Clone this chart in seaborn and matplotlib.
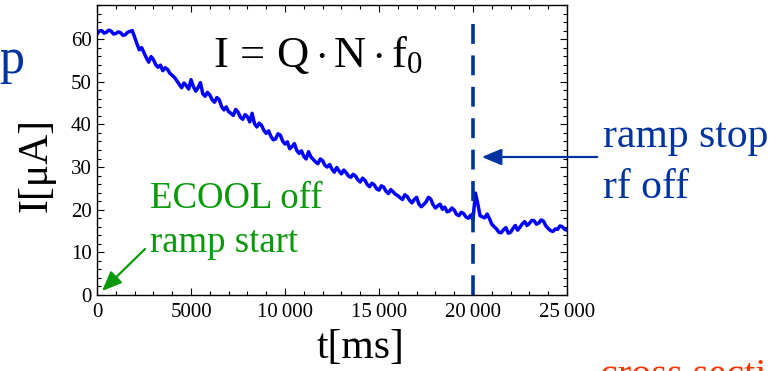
import numpy as np
import pandas as pd
import matplotlib
matplotlib.use("Agg")
import matplotlib.pyplot as plt
import seaborn as sns
from matplotlib.ticker import MultipleLocator, FixedLocator, FixedFormatter

# ---------------- data ----------------
t_start, t_end, t_step = 0, 25000, 125
current_uA = [
    61.2, 61.9, 62.0, 61.4, 61.6, 62.1, 61.9, 61.2, 61.3, 61.7, 61.5, 60.9, 61.0, 61.6, 61.8, 62.0,
    60.5, 58.9, 57.5, 58.0, 56.8, 55.6, 54.6, 55.9, 55.2, 54.0, 53.4, 53.9, 52.6, 53.3, 52.9, 52.0,
    51.5, 51.0, 50.2, 49.4, 48.6, 49.7, 49.1, 48.3, 50.5, 48.9, 47.8, 48.6, 49.8, 47.2, 46.6, 47.5,
    46.9, 45.8, 45.2, 46.3, 45.8, 44.2, 43.4, 44.1, 43.0, 42.6, 42.1, 43.5, 42.9, 41.7, 41.2, 42.3,
    41.8, 40.6, 42.6, 40.2, 39.4, 40.3, 39.8, 38.6, 37.9, 38.5, 37.2, 36.4, 36.6, 37.8, 37.5, 36.1,
    35.4, 35.9, 34.3, 34.8, 35.5, 33.9, 33.2, 33.8, 32.5, 31.9, 33.6, 32.4, 31.8, 31.2, 30.8, 31.9,
    31.5, 30.4, 30.0, 30.6, 29.5, 28.8, 29.9, 29.1, 28.4, 29.3, 28.7, 27.9, 27.6, 28.3, 27.9, 27.0,
    26.5, 27.4, 26.9, 25.9, 25.4, 26.2, 25.8, 24.9, 24.6, 25.6, 25.3, 24.3, 23.8, 24.7, 24.2, 23.6,
    23.3, 22.8, 22.4, 23.5, 23.1, 22.2, 21.6, 22.4, 22.9, 21.3, 20.7, 21.2, 21.8, 22.9, 22.5, 21.2,
    20.4, 20.9, 21.3, 20.1, 20.6, 19.5, 19.7, 20.4, 19.9, 18.9, 18.6, 19.4, 19.1, 18.3, 18.0, 18.7,
    17.6, 23.9, 21.5, 18.6, 18.3, 18.1, 19.0, 17.9, 16.6, 16.0, 15.5, 14.7, 14.6, 15.3, 15.8, 14.5,
    14.7, 15.6, 16.3, 15.2, 15.9, 16.7, 17.2, 16.3, 16.8, 17.5, 17.4, 16.6, 16.9, 17.6, 17.3, 16.2,
    15.6, 15.1, 14.9, 15.5, 15.4, 16.2, 16.0, 15.4, 15.2,
]
time_ms = np.arange(t_start, t_end + 1, t_step)[:len(current_uA)]

ramp_stop_ms = 20000
dash_top_uA = 63.5

x_ticks = [0, 5000, 10000, 15000, 20000, 25000]
x_tick_labels = ["0", "5000", "10\u2009000", "15\u2009000", "20\u2009000", "25\u2009000"]
y_ticks = [0, 10, 20, 30, 40, 50, 60]
y_tick_labels = ["0", "10", "20", "30", "40", "50", "60"]

x_label = "t[ms]"
y_label = "I[μA]"
formula = r"$\mathrm{I\,=\,Q\cdot N\cdot f_0}$"
green_lines = ["ECOOL off", "ramp start"]
blue_lines = ["ramp stop", "rf off"]
left_clip_text = "p"
bottom_clip_text = "cross secti"

df = pd.DataFrame({"t": time_ms, "I": current_uA})

# ---------------- style ----------------
sns.set_style("ticks")
plt.rcParams["font.family"] = ["Liberation Serif", "DejaVu Serif"]
plt.rcParams["mathtext.fontset"] = "custom"
plt.rcParams["mathtext.rm"] = "Liberation Serif"
plt.rcParams["mathtext.it"] = "Liberation Serif:italic"
plt.rcParams["text.color"] = "black"
plt.rcParams["axes.labelcolor"] = "black"

W, H = 779, 371
fig = plt.figure(figsize=(W / 100, H / 100), dpi=100)
ax = fig.add_axes([97 / W, 1 - 295 / H, (567 - 97) / W, (295 - 5) / H])

sns.lineplot(data=df, x="t", y="I", ax=ax, color="#0000ff", linewidth=2.5)
ax.plot([ramp_stop_ms, ramp_stop_ms], [dash_top_uA, 0], color="#003399",
        linewidth=2.6, dashes=(5.5, 3.2), solid_capstyle="butt")

ax.set_xlim(0, 25000)
ax.set_ylim(0, 68)
ax.xaxis.set_major_locator(FixedLocator(x_ticks))
ax.xaxis.set_major_formatter(FixedFormatter(x_tick_labels))
ax.yaxis.set_major_locator(FixedLocator(y_ticks))
ax.yaxis.set_major_formatter(FixedFormatter(y_tick_labels))
ax.xaxis.set_minor_locator(MultipleLocator(1000))
ax.yaxis.set_minor_locator(MultipleLocator(2))
ax.tick_params(which="both", direction="in", top=True, right=True,
               colors="black", labelsize=15, width=0.8)
ax.tick_params(which="major", length=5)
ax.tick_params(which="minor", length=3)
ax.tick_params(axis="x", pad=6)
ax.tick_params(axis="y", pad=4)
for s in ax.spines.values():
    s.set_linewidth(1.0)
    s.set_color("black")

ax.set_xlabel(x_label, fontsize=30, color="black")
ax.set_ylabel(y_label, fontsize=30, color="black")
ax.xaxis.set_label_coords((361 - 97) / 470, -(367 - 295) / 290, transform=ax.transAxes)
ax.xaxis.label.set_va("bottom")
ax.yaxis.set_label_coords(-(97 - 17) / 470, (295 - 165) / 290, transform=ax.transAxes)
ax.yaxis.label.set_va("top")

def fx(x):
    return x / W

def fy(y):
    return 1 - y / H

# formula
fig.text(fx(213), fy(67), formula, fontsize=32, color="black", ha="left", va="baseline")

# green annotation
fig.text(fx(150), fy(208), green_lines[0], fontsize=26.5, color="#0a990a", ha="left", va="baseline")
fig.text(fx(150), fy(252), green_lines[1], fontsize=26.5, color="#0a990a", ha="left", va="baseline")
fig.add_artist(matplotlib.patches.FancyArrowPatch(
    (147, H - 247), (100, H - 293), transform=None,
    arrowstyle="-|>,head_length=1.2,head_width=0.5", mutation_scale=10,
    color="#0a990a", linewidth=1.6))

# blue annotation
fig.text(fx(603), fy(147), blue_lines[0], fontsize=30, color="#0033a0", ha="left", va="baseline")
fig.text(fx(603), fy(198), blue_lines[1], fontsize=30, color="#0033a0", ha="left", va="baseline")
fig.add_artist(matplotlib.patches.FancyArrowPatch(
    (600, H - 157), (479, H - 157), transform=None,
    arrowstyle="-|>,head_length=1.2,head_width=0.5", mutation_scale=10,
    color="#0033a0", linewidth=1.6))

# clipped texts at figure edges
fig.text(fx(-1), fy(73), left_clip_text, fontsize=36, color="#0033a0", ha="left", va="baseline")
fig.text(fx(600), fy(386), bottom_clip_text, fontsize=29, color="#ff3300", ha="left", va="baseline")

fig.savefig("out.png", dpi=100)
